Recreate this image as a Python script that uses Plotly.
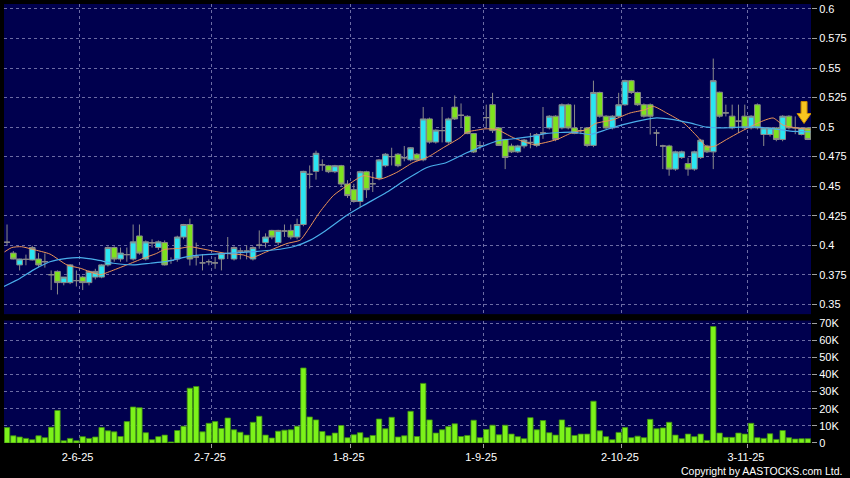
import plotly.graph_objects as go
import pandas as pd

# ---- categories: HK trading days shown on the chart ----
hk_holidays = ["2025-07-01", "2025-10-01", "2025-10-07", "2025-10-29"]
dates = pd.bdate_range("2025-05-15", "2025-11-14", freq="C", holidays=hk_holidays)
idx = list(range(len(dates)))

# ---- OHLC ----
open_ = [0.4025, 0.3933, 0.3833, 0.388, 0.3875, 0.3883, 0.386, 0.375, 0.3778, 0.3683,
         0.3683, 0.370, 0.373, 0.3683, 0.373, 0.373, 0.3833, 0.398, 0.3883, 0.392,
         0.3883, 0.4078, 0.3883, 0.402, 0.398, 0.4022, 0.387, 0.3883, 0.4069, 0.4175,
         0.390, 0.385, 0.386, 0.385, 0.3883, 0.393, 0.3883, 0.395, 0.395, 0.3883,
         0.400, 0.4022, 0.4125, 0.4022, 0.412, 0.4125, 0.4069, 0.4175, 0.46, 0.4625,
         0.468, 0.4673, 0.4622, 0.4673, 0.4518, 0.447, 0.437, 0.4622, 0.452, 0.4566,
         0.4673, 0.475, 0.477, 0.474, 0.4722, 0.477, 0.4722, 0.5069, 0.4873, 0.497,
         0.4873, 0.5169, 0.51, 0.5091, 0.4945, 0.4842, 0.508, 0.519, 0.4993, 0.4895,
         0.484, 0.479, 0.484, 0.487, 0.4845, 0.495, 0.4993, 0.5092, 0.4993, 0.5189,
         0.4993, 0.497, 0.4993, 0.4845, 0.5293, 0.5092, 0.4993, 0.5092, 0.5189, 0.5393,
         0.5293, 0.5189, 0.5189, 0.495, 0.484, 0.484, 0.4644, 0.4742, 0.4691, 0.4644,
         0.4742, 0.484, 0.479, 0.5295, 0.512, 0.5092, 0.505, 0.5092, 0.4993, 0.5189,
         0.4937, 0.4937, 0.4993, 0.4895, 0.5092, 0.4993, 0.4937, 0.4993]
high = [0.4175, 0.395, 0.3885, 0.392, 0.3994, 0.3933, 0.393, 0.3786, 0.3786, 0.373,
        0.384, 0.3786, 0.374, 0.3786, 0.380, 0.384, 0.399, 0.399, 0.398, 0.398,
        0.4175, 0.4175, 0.404, 0.405, 0.404, 0.404, 0.3897, 0.408, 0.418, 0.4225,
        0.4022, 0.3925, 0.388, 0.390, 0.394, 0.4069, 0.399, 0.398, 0.400, 0.399,
        0.4125, 0.41, 0.413, 0.413, 0.4175, 0.4175, 0.4225, 0.463, 0.4675, 0.48,
        0.4727, 0.468, 0.468, 0.468, 0.455, 0.452, 0.463, 0.463, 0.462, 0.473,
        0.478, 0.4825, 0.478, 0.484, 0.483, 0.478, 0.517, 0.508, 0.498, 0.517,
        0.508, 0.5268, 0.52, 0.51, 0.495, 0.488, 0.519, 0.529, 0.50, 0.49,
        0.486, 0.485, 0.49, 0.495, 0.495, 0.517, 0.51, 0.51, 0.52, 0.52,
        0.519, 0.50, 0.50, 0.5393, 0.53, 0.51, 0.51, 0.529, 0.54, 0.54,
        0.53, 0.52, 0.52, 0.498, 0.485, 0.485, 0.48, 0.48, 0.474, 0.48,
        0.49, 0.485, 0.558, 0.53, 0.519, 0.519, 0.519, 0.519, 0.51, 0.52,
        0.50, 0.50, 0.50, 0.51, 0.51, 0.509, 0.50, 0.50]
low = [0.3995, 0.388, 0.3786, 0.383, 0.387, 0.3814, 0.381, 0.362, 0.3583, 0.366,
       0.367, 0.365, 0.362, 0.366, 0.371, 0.372, 0.382, 0.386, 0.386, 0.386,
       0.387, 0.392, 0.387, 0.398, 0.396, 0.3828, 0.3842, 0.386, 0.405, 0.3828,
       0.3828, 0.3786, 0.383, 0.380, 0.3786, 0.3883, 0.387, 0.388, 0.388, 0.387,
       0.397, 0.398, 0.405, 0.400, 0.407, 0.405, 0.405, 0.416, 0.448, 0.4555,
       0.463, 0.461, 0.461, 0.45, 0.44, 0.436, 0.4322, 0.44, 0.445, 0.455,
       0.466, 0.4675, 0.466, 0.471, 0.471, 0.471, 0.471, 0.486, 0.486, 0.487,
       0.486, 0.506, 0.50, 0.494, 0.478, 0.481, 0.50, 0.495, 0.484, 0.4644,
       0.478, 0.478, 0.482, 0.482, 0.483, 0.49, 0.498, 0.488, 0.498, 0.498,
       0.494, 0.494, 0.483, 0.483, 0.508, 0.498, 0.498, 0.508, 0.518, 0.528,
       0.518, 0.508, 0.4937, 0.484, 0.4644, 0.4588, 0.463, 0.473, 0.4588, 0.463,
       0.473, 0.478, 0.4644, 0.508, 0.509, 0.498, 0.495, 0.498, 0.498, 0.498,
       0.484, 0.492, 0.488, 0.488, 0.498, 0.494, 0.493, 0.489]
close = [0.4025, 0.3883, 0.3883, 0.388, 0.398, 0.3833, 0.386, 0.375, 0.3683, 0.373,
         0.3833, 0.370, 0.3683, 0.3778, 0.3778, 0.3833, 0.398, 0.3883, 0.3933, 0.392,
         0.4028, 0.3933, 0.4028, 0.402, 0.4028, 0.3833, 0.387, 0.4069, 0.4175, 0.3883,
         0.390, 0.385, 0.386, 0.385, 0.393, 0.393, 0.398, 0.395, 0.395, 0.398,
         0.400, 0.4069, 0.4069, 0.4125, 0.412, 0.4069, 0.4175, 0.4625, 0.46, 0.4778,
         0.468, 0.4622, 0.4673, 0.4518, 0.442, 0.437, 0.4622, 0.447, 0.452, 0.4722,
         0.477, 0.475, 0.4673, 0.474, 0.4825, 0.4722, 0.5069, 0.4873, 0.4974, 0.497,
         0.5069, 0.5069, 0.51, 0.4945, 0.4789, 0.4842, 0.508, 0.497, 0.4845, 0.4742,
         0.479, 0.484, 0.489, 0.487, 0.4937, 0.495, 0.5092, 0.4895, 0.5189, 0.4993,
         0.4946, 0.497, 0.4845, 0.5293, 0.5092, 0.4993, 0.5092, 0.5189, 0.5393, 0.5293,
         0.5189, 0.5092, 0.5092, 0.495, 0.484, 0.4644, 0.479, 0.479, 0.4644, 0.479,
         0.4889, 0.479, 0.5393, 0.5092, 0.512, 0.4993, 0.505, 0.4993, 0.5092, 0.4993,
         0.4993, 0.4993, 0.4895, 0.5092, 0.4993, 0.4993, 0.4993, 0.4895]

# ---- volume (shares) ----
volume_k = [9.0, 4.2, 3.5, 2.7, 1.9, 4.2, 3.1, 9.2, 19, 1.3,
            2.7, 1.3, 3.7, 2.7, 3.5, 9.0, 7.1, 6.5, 3.8, 12.5,
            21, 20.6, 6.0, 1.9, 3.7, 4.6, 0.6, 7.3, 9.8, 32,
            33, 6.5, 11.5, 12.5, 8.5, 14.6, 7.7, 6.3, 4.6, 12.1,
            15.6, 4.6, 2.9, 6.9, 7.5, 7.7, 9.8, 43.8, 15.2, 13.5,
            6.7, 4.2, 5.8, 10.2, 3.1, 4.8, 6.0, 3.1, 4.4, 14.0,
            8.3, 15, 3.5, 4.2, 18.5, 3.8, 34.8, 13.5, 5.8, 7.7,
            9.6, 11.2, 3.8, 4.4, 13.3, 3.1, 7.9, 10.4, 4.8, 10.4,
            5.2, 3.7, 2.5, 14.8, 7.7, 13.1, 6.0, 4.6, 13.5, 9.2,
            4.4, 5.2, 5.2, 24.4, 7.1, 3.7, 1.9, 6.2, 9.0, 3.1,
            4.0, 3.1, 13.8, 8.3, 8.8, 12.1, 4.6, 2.5, 5.2, 3.7,
            5.2, 1.5, 68, 5.8, 3.3, 3.3, 5.8, 5.2, 11.5, 3.1,
            2.7, 5.4, 2.1, 7.3, 3.1, 2.3, 2.5, 2.5]
volume = [v * 1000 for v in volume_k]

ma_short_x = [-0.4, 0.75, 2.3, 4.1, 6.8, 9.5, 11.6, 14.75, 16.3, 19, 21.6, 23.7, 25, 27.4, 29,
              31.1, 34.8, 37.5, 38.8, 41.2, 44.4, 46.5, 47.5, 49.6, 51.75, 53.9, 56.5, 59.2,
              61.8, 64.4, 66.6, 69.2, 71.85, 72.9, 74.5, 75.8, 77.7, 80.3, 83.5, 87.2, 89.8,
              91.9, 93.3, 96.2, 98.8, 101.2, 102.5, 104.6, 107.3, 109.4, 111, 112.3, 114.1,
              116.3, 118.4, 120, 121.5, 123.1, 125.2, 127.4]
ma_short = [0.3943, 0.398, 0.3987, 0.3964, 0.3925, 0.3833, 0.3805, 0.375, 0.3777, 0.3833,
            0.3889, 0.393, 0.3964, 0.3973, 0.3987, 0.3967, 0.393, 0.3917, 0.3894, 0.3945,
            0.4014, 0.4043, 0.4112, 0.428, 0.442, 0.4504, 0.4588, 0.456, 0.4616, 0.47,
            0.4742, 0.4826, 0.491, 0.4957, 0.4974, 0.4985, 0.4979, 0.491, 0.4853, 0.4895,
            0.4957, 0.4979, 0.503, 0.5063, 0.5119, 0.5147, 0.5175, 0.5119, 0.5035, 0.4924,
            0.4831, 0.484, 0.4895, 0.496, 0.5016, 0.5055, 0.5077, 0.5016, 0.4993, 0.4979]
ma_long_x = [-0.5, 2.1, 4.2, 6.8, 9.5, 11.6, 14.2, 16.9, 20, 22.7, 25.1, 29.5, 34.8, 39.1,
             42.2, 45.4, 48.1, 50.4, 53.9, 56.5, 60.2, 63.4, 66.6, 69.7, 72.9, 75.8, 77.7,
             80.3, 83.5, 85.6, 89.8, 92.5, 95.1, 97.7, 101.2, 103, 105.7, 108.3, 111, 113.6,
             116.3, 118.9, 121.5, 124.2, 127.4]
ma_long = [0.365, 0.372, 0.3791, 0.386, 0.3889, 0.3894, 0.3875, 0.3847, 0.3833, 0.3847,
           0.386, 0.3911, 0.393, 0.3945, 0.3959, 0.3987, 0.4043, 0.4118, 0.4253, 0.4336,
           0.4448, 0.456, 0.4658, 0.47, 0.4783, 0.4845, 0.4882, 0.4901, 0.4924, 0.4946,
           0.4957, 0.4937, 0.4979, 0.5021, 0.5063, 0.5077, 0.5063, 0.5035, 0.4999, 0.4993,
           0.4999, 0.4999, 0.4987, 0.4966, 0.496]

# ---- axis ticks ----
price_ticks = [0.35, 0.375, 0.4, 0.425, 0.45, 0.475, 0.5, 0.525, 0.55, 0.575, 0.6]
price_tick_text = ["0.35", "0.375", "0.4", "0.425", "0.45", "0.475", "0.5", "0.525", "0.55", "0.575", "0.6"]
vol_ticks = [0, 10000, 20000, 30000, 40000, 50000, 60000, 70000]
vol_tick_text = ["0", "10K", "20K", "30K", "40K", "50K", "60K", "70K"]

# first trading day of each month -> date label (grid sits at that bar's left edge)
month_first = [i for i in idx[1:] if dates[i].month != dates[i - 1].month]
date_tick_pos = [i - 0.5 for i in month_first]
date_tick_text = [f"{dates[i].day}-{dates[i].month}-{dates[i].strftime('%y')}" for i in month_first]

GRID = "#6c6ca4"
DASH = "3px,3px"
NAVY = "#00004e"
TXT = dict(family="Liberation Sans, Arial, sans-serif", size=11, color="#ffffff")

fig = go.Figure()

fig.add_trace(go.Candlestick(
    x=idx, open=open_, high=high, low=low, close=close,
    increasing=dict(line=dict(color="#8a8a8a", width=1), fillcolor="#2ae6f2"),
    decreasing=dict(line=dict(color="#8a8a8a", width=1), fillcolor="#7ee21e"),
    whiskerwidth=0, xaxis="x", yaxis="y", showlegend=False, hoverinfo="skip"))

fig.add_trace(go.Scatter(x=ma_short_x, y=ma_short, mode="lines",
                         line=dict(color="#ec9458", width=1, shape="spline", smoothing=0.6),
                         xaxis="x", yaxis="y", showlegend=False, hoverinfo="skip"))
fig.add_trace(go.Scatter(x=ma_long_x, y=ma_long, mode="lines",
                         line=dict(color="#4aaeea", width=1.2, shape="spline", smoothing=0.6),
                         xaxis="x", yaxis="y", showlegend=False, hoverinfo="skip"))

fig.add_trace(go.Bar(x=idx, y=volume, marker=dict(color="#7cf21a", line=dict(color="#3f8f12", width=0.8)),
                     xaxis="x2", yaxis="y2", showlegend=False, hoverinfo="skip"))

# last-day marker arrow
fig.add_shape(type="path", xref="x", yref="y", xsizemode="pixel", ysizemode="pixel",
              xanchor=idx[-1] - 0.6, yanchor=close[-1] + 0.0135,
              path="M0,0 L-7,10 L-3,10 L-3,22 L3,22 L3,10 L7,10 Z",
              fillcolor="#f7c520", line=dict(color="#c98c00", width=1), layer="above")

fig.add_annotation(text="Copyright by AASTOCKS.com Ltd.", xref="paper", yref="paper",
                   x=1.041, y=-0.063, xanchor="right", yanchor="middle", showarrow=False,
                   font=dict(family="Liberation Sans, Arial, sans-serif", size=10.5, color="#ffffff"))

xrange = [-0.48, len(idx) - 0.5]

fig.update_layout(
    width=850, height=478,
    margin=dict(l=4, r=39, t=0, b=35),
    paper_bgcolor="#000000", plot_bgcolor=NAVY,
    boxgap=0.1, boxgroupgap=0, bargap=0.15,
    showlegend=False,
    xaxis=dict(domain=[0, 1], anchor="y", range=xrange, tickvals=date_tick_pos, showticklabels=False,
               ticks="", showgrid=True, gridcolor=GRID, griddash=DASH, gridwidth=1,
               zeroline=False, showline=False, rangeslider=dict(visible=False), fixedrange=True),
    yaxis=dict(domain=[0.2935, 1], range=[0.3416, 0.6042], side="right", tickvals=price_ticks,
               ticktext=price_tick_text, ticks="outside", ticklen=5, tickcolor="#a0a0a0",
               tickfont=TXT, showgrid=True, gridcolor=GRID, griddash=DASH, zeroline=False,
               showline=False),
    xaxis2=dict(domain=[0, 1], anchor="y2", range=xrange, matches="x", tickvals=date_tick_pos,
                ticktext=date_tick_text, ticks="outside", ticklen=4, tickcolor="#a0a0a0",
                tickfont=TXT, ticklabelshift=-2, showgrid=True, gridcolor=GRID, griddash=DASH,
                zeroline=False, showline=False),
    yaxis2=dict(domain=[0, 0.279], range=[0, 71500], side="right", tickvals=vol_ticks,
                ticktext=vol_tick_text, ticks="outside", ticklen=5, tickcolor="#a0a0a0",
                tickfont=TXT, showgrid=True, gridcolor=GRID, griddash=DASH, zeroline=False,
                showline=False),
)

fig.write_html("out.html", config={"displayModeBar": False},
               post_script="document.body.style.margin='0';document.body.style.padding='0';"
                           "document.body.style.overflow='hidden';document.body.style.background='#000';")
